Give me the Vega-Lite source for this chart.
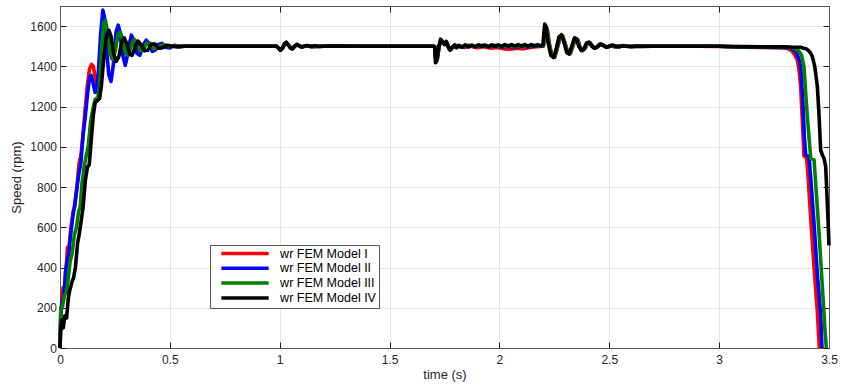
{
  "$schema": "https://vega.github.io/schema/vega-lite/v6.json",
  "width": 769,
  "height": 342,
  "autosize": "none",
  "padding": {"left": 60, "top": 6, "right": 12, "bottom": 39},
  "background": "white",
  "config": {
    "font": "Liberation Sans",
    "view": {"stroke": "#7f7f7f", "strokeWidth": 1},
    "axis": {
      "labelFont": "Liberation Sans",
      "labelFontSize": 12,
      "labelColor": "#262626",
      "labelFlush": false,
      "titleFont": "Liberation Sans",
      "titleFontSize": 13,
      "titleFontWeight": "normal",
      "titleColor": "#262626",
      "domainColor": "#595959",
      "tickColor": "#1a1a1a",
      "tickWidth": 1,
      "tickSize": -6,
      "gridColor": "#e3e3e3",
      "gridWidth": 1
    },
    "axisX": {"labelPadding": 12},
    "axisY": {"labelPadding": 9.5}
  },
  "datasets": {
    "speed": [
      {"m":"I","t":0,"v":0},{"m":"I","t":0.004,"v":150},{"m":"I","t":0.008,"v":230},{"m":"I","t":0.014,"v":300},{"m":"I","t":0.02,"v":285},{"m":"I","t":0.027,"v":380},{"m":"I","t":0.034,"v":500},{"m":"I","t":0.042,"v":510},{"m":"I","t":0.05,"v":600},{"m":"I","t":0.06,"v":680},{"m":"I","t":0.068,"v":705},{"m":"I","t":0.077,"v":800},{"m":"I","t":0.087,"v":920},{"m":"I","t":0.095,"v":955},{"m":"I","t":0.104,"v":1050},{"m":"I","t":0.114,"v":1180},{"m":"I","t":0.124,"v":1300},{"m":"I","t":0.134,"v":1385},{"m":"I","t":0.144,"v":1410},{"m":"I","t":0.152,"v":1400},{"m":"I","t":0.16,"v":1345},{"m":"I","t":0.168,"v":1305},{"m":"I","t":0.178,"v":1380},{"m":"I","t":0.19,"v":1520},{"m":"I","t":0.2,"v":1612},{"m":"I","t":0.21,"v":1600},{"m":"I","t":0.222,"v":1500},{"m":"I","t":0.235,"v":1440},{"m":"I","t":0.248,"v":1490},{"m":"I","t":0.262,"v":1560},{"m":"I","t":0.275,"v":1540},{"m":"I","t":0.29,"v":1470},{"m":"I","t":0.305,"v":1462},{"m":"I","t":0.32,"v":1530},{"m":"I","t":0.335,"v":1528},{"m":"I","t":0.35,"v":1482},{"m":"I","t":0.368,"v":1478},{"m":"I","t":0.385,"v":1518},{"m":"I","t":0.403,"v":1510},{"m":"I","t":0.42,"v":1487},{"m":"I","t":0.442,"v":1508},{"m":"I","t":0.466,"v":1496},{"m":"I","t":0.495,"v":1504},{"m":"I","t":0.53,"v":1498},{"m":"I","t":0.56,"v":1500},
      {"m":"I","t":0.7,"v":1500},{"m":"I","t":0.9,"v":1500},{"m":"I","t":0.985,"v":1500},{"m":"I","t":0.995,"v":1490},{"m":"I","t":1.004,"v":1482},{"m":"I","t":1.014,"v":1492},{"m":"I","t":1.024,"v":1513},{"m":"I","t":1.032,"v":1516},{"m":"I","t":1.042,"v":1503},{"m":"I","t":1.052,"v":1490},{"m":"I","t":1.06,"v":1490},{"m":"I","t":1.07,"v":1501},{"m":"I","t":1.08,"v":1507},{"m":"I","t":1.092,"v":1500},{"m":"I","t":1.105,"v":1497},{"m":"I","t":1.125,"v":1503},{"m":"I","t":1.15,"v":1498},{"m":"I","t":1.2,"v":1500},{"m":"I","t":1.4,"v":1500},{"m":"I","t":1.6,"v":1500},{"m":"I","t":1.7,"v":1500},
      {"m":"I","t":1.707,"v":1496},{"m":"I","t":1.712,"v":1425},{"m":"I","t":1.718,"v":1440},{"m":"I","t":1.726,"v":1500},{"m":"I","t":1.735,"v":1528},{"m":"I","t":1.745,"v":1515},{"m":"I","t":1.755,"v":1518},{"m":"I","t":1.768,"v":1495},{"m":"I","t":1.778,"v":1482},{"m":"I","t":1.79,"v":1497},{"m":"I","t":1.81,"v":1500},{"m":"I","t":1.84,"v":1494},{"m":"I","t":1.87,"v":1500},{"m":"I","t":1.9,"v":1493},{"m":"I","t":1.93,"v":1498},{"m":"I","t":1.96,"v":1490},{"m":"I","t":1.99,"v":1494},{"m":"I","t":2.02,"v":1487},{"m":"I","t":2.05,"v":1485},{"m":"I","t":2.08,"v":1490},{"m":"I","t":2.11,"v":1487},{"m":"I","t":2.14,"v":1494},{"m":"I","t":2.17,"v":1498},{"m":"I","t":2.2,"v":1500},
      {"m":"I","t":2.206,"v":1560},{"m":"I","t":2.211,"v":1595},{"m":"I","t":2.218,"v":1585},{"m":"I","t":2.228,"v":1510},{"m":"I","t":2.24,"v":1450},{"m":"I","t":2.253,"v":1448},{"m":"I","t":2.266,"v":1500},{"m":"I","t":2.278,"v":1550},{"m":"I","t":2.289,"v":1550},{"m":"I","t":2.3,"v":1510},{"m":"I","t":2.312,"v":1465},{"m":"I","t":2.324,"v":1465},{"m":"I","t":2.336,"v":1505},{"m":"I","t":2.348,"v":1538},{"m":"I","t":2.358,"v":1530},{"m":"I","t":2.368,"v":1495},{"m":"I","t":2.379,"v":1478},{"m":"I","t":2.391,"v":1490},{"m":"I","t":2.403,"v":1517},{"m":"I","t":2.414,"v":1516},{"m":"I","t":2.426,"v":1498},{"m":"I","t":2.438,"v":1489},{"m":"I","t":2.451,"v":1500},{"m":"I","t":2.464,"v":1510},{"m":"I","t":2.477,"v":1502},{"m":"I","t":2.492,"v":1495},{"m":"I","t":2.51,"v":1503},{"m":"I","t":2.53,"v":1498},{"m":"I","t":2.56,"v":1501},{"m":"I","t":2.6,"v":1499},{"m":"I","t":2.7,"v":1500},{"m":"I","t":2.9,"v":1500},{"m":"I","t":3.0,"v":1499},{"m":"I","t":3.1,"v":1495},{"m":"I","t":3.2,"v":1494},{"m":"I","t":3.29,"v":1493},
      {"m":"I","t":3.31,"v":1490},{"m":"I","t":3.33,"v":1478},{"m":"I","t":3.345,"v":1455},{"m":"I","t":3.356,"v":1430},{"m":"I","t":3.364,"v":1380},{"m":"I","t":3.371,"v":1300},{"m":"I","t":3.38,"v":1100},{"m":"I","t":3.386,"v":955},{"m":"I","t":3.398,"v":945},{"m":"I","t":3.405,"v":850},{"m":"I","t":3.417,"v":640},{"m":"I","t":3.432,"v":400},{"m":"I","t":3.447,"v":180},{"m":"I","t":3.456,"v":0},

      {"m":"II","t":0,"v":0},{"m":"II","t":0.003,"v":170},{"m":"II","t":0.01,"v":230},{"m":"II","t":0.018,"v":260},{"m":"II","t":0.025,"v":380},{"m":"II","t":0.032,"v":430},{"m":"II","t":0.04,"v":470},{"m":"II","t":0.048,"v":560},{"m":"II","t":0.058,"v":650},{"m":"II","t":0.065,"v":700},{"m":"II","t":0.075,"v":780},{"m":"II","t":0.085,"v":860},{"m":"II","t":0.095,"v":920},{"m":"II","t":0.105,"v":1060},{"m":"II","t":0.115,"v":1150},{"m":"II","t":0.125,"v":1260},{"m":"II","t":0.135,"v":1350},{"m":"II","t":0.142,"v":1355},{"m":"II","t":0.15,"v":1320},{"m":"II","t":0.16,"v":1270},{"m":"II","t":0.168,"v":1280},{"m":"II","t":0.175,"v":1380},{"m":"II","t":0.185,"v":1560},{"m":"II","t":0.195,"v":1680},{"m":"II","t":0.203,"v":1640},{"m":"II","t":0.212,"v":1480},{"m":"II","t":0.222,"v":1360},{"m":"II","t":0.232,"v":1325},{"m":"II","t":0.242,"v":1400},{"m":"II","t":0.255,"v":1570},{"m":"II","t":0.265,"v":1605},{"m":"II","t":0.275,"v":1560},{"m":"II","t":0.287,"v":1450},{"m":"II","t":0.297,"v":1405},{"m":"II","t":0.31,"v":1470},{"m":"II","t":0.325,"v":1555},{"m":"II","t":0.338,"v":1522},{"m":"II","t":0.35,"v":1465},{"m":"II","t":0.363,"v":1455},{"m":"II","t":0.378,"v":1500},{"m":"II","t":0.392,"v":1530},{"m":"II","t":0.405,"v":1515},{"m":"II","t":0.42,"v":1475},{"m":"II","t":0.435,"v":1482},{"m":"II","t":0.45,"v":1510},{"m":"II","t":0.465,"v":1514},{"m":"II","t":0.48,"v":1495},{"m":"II","t":0.5,"v":1491},{"m":"II","t":0.52,"v":1505},{"m":"II","t":0.545,"v":1500},
      {"m":"II","t":0.7,"v":1500},{"m":"II","t":0.9,"v":1500},{"m":"II","t":0.985,"v":1500},{"m":"II","t":0.995,"v":1491},{"m":"II","t":1.003,"v":1481},{"m":"II","t":1.012,"v":1490},{"m":"II","t":1.022,"v":1512},{"m":"II","t":1.03,"v":1518},{"m":"II","t":1.04,"v":1505},{"m":"II","t":1.05,"v":1490},{"m":"II","t":1.058,"v":1488},{"m":"II","t":1.068,"v":1500},{"m":"II","t":1.078,"v":1508},{"m":"II","t":1.09,"v":1501},{"m":"II","t":1.1,"v":1496},{"m":"II","t":1.12,"v":1502},{"m":"II","t":1.15,"v":1499},{"m":"II","t":1.2,"v":1500},{"m":"II","t":1.4,"v":1500},{"m":"II","t":1.6,"v":1500},{"m":"II","t":1.7,"v":1500},
      {"m":"II","t":1.706,"v":1497},{"m":"II","t":1.711,"v":1420},{"m":"II","t":1.717,"v":1435},{"m":"II","t":1.725,"v":1498},{"m":"II","t":1.734,"v":1532},{"m":"II","t":1.743,"v":1518},{"m":"II","t":1.752,"v":1512},{"m":"II","t":1.762,"v":1515},{"m":"II","t":1.772,"v":1485},{"m":"II","t":1.783,"v":1490},{"m":"II","t":1.8,"v":1503},{"m":"II","t":1.83,"v":1495},{"m":"II","t":1.86,"v":1502},{"m":"II","t":1.89,"v":1497},{"m":"II","t":1.92,"v":1503},{"m":"II","t":1.95,"v":1496},{"m":"II","t":1.98,"v":1502},{"m":"II","t":2.01,"v":1495},{"m":"II","t":2.04,"v":1500},{"m":"II","t":2.07,"v":1494},{"m":"II","t":2.1,"v":1500},{"m":"II","t":2.13,"v":1496},{"m":"II","t":2.16,"v":1502},{"m":"II","t":2.19,"v":1500},{"m":"II","t":2.2,"v":1502},
      {"m":"II","t":2.204,"v":1560},{"m":"II","t":2.209,"v":1600},{"m":"II","t":2.215,"v":1590},{"m":"II","t":2.224,"v":1515},{"m":"II","t":2.237,"v":1452},{"m":"II","t":2.25,"v":1446},{"m":"II","t":2.262,"v":1495},{"m":"II","t":2.274,"v":1548},{"m":"II","t":2.285,"v":1553},{"m":"II","t":2.297,"v":1515},{"m":"II","t":2.309,"v":1467},{"m":"II","t":2.32,"v":1463},{"m":"II","t":2.332,"v":1502},{"m":"II","t":2.344,"v":1539},{"m":"II","t":2.354,"v":1533},{"m":"II","t":2.364,"v":1498},{"m":"II","t":2.375,"v":1479},{"m":"II","t":2.387,"v":1488},{"m":"II","t":2.399,"v":1516},{"m":"II","t":2.41,"v":1518},{"m":"II","t":2.422,"v":1500},{"m":"II","t":2.434,"v":1490},{"m":"II","t":2.447,"v":1498},{"m":"II","t":2.46,"v":1510},{"m":"II","t":2.473,"v":1504},{"m":"II","t":2.488,"v":1495},{"m":"II","t":2.505,"v":1503},{"m":"II","t":2.525,"v":1498},{"m":"II","t":2.55,"v":1502},{"m":"II","t":2.6,"v":1499},{"m":"II","t":2.7,"v":1500},{"m":"II","t":2.9,"v":1500},{"m":"II","t":3.0,"v":1500},{"m":"II","t":3.1,"v":1496},{"m":"II","t":3.2,"v":1495},
      {"m":"II","t":3.3,"v":1493},{"m":"II","t":3.33,"v":1488},{"m":"II","t":3.35,"v":1470},{"m":"II","t":3.362,"v":1440},{"m":"II","t":3.371,"v":1400},{"m":"II","t":3.38,"v":1250},{"m":"II","t":3.388,"v":1050},{"m":"II","t":3.394,"v":958},{"m":"II","t":3.409,"v":952},{"m":"II","t":3.42,"v":800},{"m":"II","t":3.432,"v":617},{"m":"II","t":3.447,"v":367},{"m":"II","t":3.462,"v":167},{"m":"II","t":3.468,"v":0},

      {"m":"III","t":0,"v":0},{"m":"III","t":0.004,"v":200},{"m":"III","t":0.012,"v":210},{"m":"III","t":0.02,"v":260},{"m":"III","t":0.03,"v":280},{"m":"III","t":0.038,"v":350},{"m":"III","t":0.046,"v":430},{"m":"III","t":0.055,"v":470},{"m":"III","t":0.065,"v":560},{"m":"III","t":0.075,"v":600},{"m":"III","t":0.085,"v":680},{"m":"III","t":0.092,"v":700},{"m":"III","t":0.1,"v":820},{"m":"III","t":0.11,"v":900},{"m":"III","t":0.12,"v":960},{"m":"III","t":0.128,"v":1000},{"m":"III","t":0.14,"v":1130},{"m":"III","t":0.152,"v":1200},{"m":"III","t":0.16,"v":1235},{"m":"III","t":0.172,"v":1245},{"m":"III","t":0.18,"v":1300},{"m":"III","t":0.19,"v":1500},{"m":"III","t":0.2,"v":1620},{"m":"III","t":0.207,"v":1630},{"m":"III","t":0.217,"v":1560},{"m":"III","t":0.228,"v":1470},{"m":"III","t":0.24,"v":1435},{"m":"III","t":0.252,"v":1480},{"m":"III","t":0.265,"v":1560},{"m":"III","t":0.275,"v":1570},{"m":"III","t":0.287,"v":1520},{"m":"III","t":0.3,"v":1465},{"m":"III","t":0.31,"v":1455},{"m":"III","t":0.322,"v":1495},{"m":"III","t":0.337,"v":1535},{"m":"III","t":0.35,"v":1520},{"m":"III","t":0.365,"v":1478},{"m":"III","t":0.378,"v":1478},{"m":"III","t":0.393,"v":1515},{"m":"III","t":0.41,"v":1515},{"m":"III","t":0.425,"v":1488},{"m":"III","t":0.445,"v":1495},{"m":"III","t":0.47,"v":1508},{"m":"III","t":0.5,"v":1498},{"m":"III","t":0.53,"v":1502},{"m":"III","t":0.56,"v":1500},
      {"m":"III","t":0.7,"v":1500},{"m":"III","t":0.9,"v":1500},{"m":"III","t":0.986,"v":1500},{"m":"III","t":0.996,"v":1491},{"m":"III","t":1.004,"v":1481},{"m":"III","t":1.013,"v":1490},{"m":"III","t":1.023,"v":1512},{"m":"III","t":1.031,"v":1518},{"m":"III","t":1.041,"v":1505},{"m":"III","t":1.051,"v":1490},{"m":"III","t":1.059,"v":1488},{"m":"III","t":1.069,"v":1500},{"m":"III","t":1.079,"v":1508},{"m":"III","t":1.091,"v":1501},{"m":"III","t":1.101,"v":1496},{"m":"III","t":1.12,"v":1502},{"m":"III","t":1.15,"v":1499},{"m":"III","t":1.2,"v":1500},{"m":"III","t":1.4,"v":1500},{"m":"III","t":1.6,"v":1500},{"m":"III","t":1.7,"v":1500},
      {"m":"III","t":1.706,"v":1497},{"m":"III","t":1.711,"v":1422},{"m":"III","t":1.717,"v":1436},{"m":"III","t":1.725,"v":1499},{"m":"III","t":1.734,"v":1530},{"m":"III","t":1.744,"v":1516},{"m":"III","t":1.753,"v":1514},{"m":"III","t":1.763,"v":1512},{"m":"III","t":1.773,"v":1484},{"m":"III","t":1.785,"v":1492},{"m":"III","t":1.8,"v":1505},{"m":"III","t":1.83,"v":1497},{"m":"III","t":1.86,"v":1505},{"m":"III","t":1.89,"v":1498},{"m":"III","t":1.92,"v":1505},{"m":"III","t":1.95,"v":1499},{"m":"III","t":1.98,"v":1505},{"m":"III","t":2.01,"v":1498},{"m":"III","t":2.04,"v":1504},{"m":"III","t":2.07,"v":1498},{"m":"III","t":2.1,"v":1504},{"m":"III","t":2.13,"v":1499},{"m":"III","t":2.16,"v":1505},{"m":"III","t":2.19,"v":1501},{"m":"III","t":2.2,"v":1503},
      {"m":"III","t":2.205,"v":1560},{"m":"III","t":2.21,"v":1598},{"m":"III","t":2.216,"v":1588},{"m":"III","t":2.226,"v":1512},{"m":"III","t":2.239,"v":1451},{"m":"III","t":2.252,"v":1447},{"m":"III","t":2.264,"v":1497},{"m":"III","t":2.276,"v":1549},{"m":"III","t":2.287,"v":1552},{"m":"III","t":2.299,"v":1512},{"m":"III","t":2.311,"v":1466},{"m":"III","t":2.322,"v":1464},{"m":"III","t":2.334,"v":1504},{"m":"III","t":2.346,"v":1539},{"m":"III","t":2.356,"v":1532},{"m":"III","t":2.366,"v":1497},{"m":"III","t":2.377,"v":1479},{"m":"III","t":2.389,"v":1489},{"m":"III","t":2.401,"v":1516},{"m":"III","t":2.412,"v":1517},{"m":"III","t":2.424,"v":1499},{"m":"III","t":2.436,"v":1490},{"m":"III","t":2.449,"v":1499},{"m":"III","t":2.462,"v":1510},{"m":"III","t":2.475,"v":1503},{"m":"III","t":2.49,"v":1495},{"m":"III","t":2.508,"v":1503},{"m":"III","t":2.528,"v":1498},{"m":"III","t":2.555,"v":1502},{"m":"III","t":2.6,"v":1499},{"m":"III","t":2.7,"v":1500},{"m":"III","t":2.9,"v":1500},{"m":"III","t":3.0,"v":1500},{"m":"III","t":3.1,"v":1497},{"m":"III","t":3.2,"v":1496},
      {"m":"III","t":3.3,"v":1495},{"m":"III","t":3.34,"v":1490},{"m":"III","t":3.36,"v":1480},{"m":"III","t":3.375,"v":1455},{"m":"III","t":3.386,"v":1400},{"m":"III","t":3.395,"v":1250},{"m":"III","t":3.405,"v":1100},{"m":"III","t":3.417,"v":942},{"m":"III","t":3.432,"v":935},{"m":"III","t":3.443,"v":760},{"m":"III","t":3.455,"v":567},{"m":"III","t":3.47,"v":300},{"m":"III","t":3.482,"v":83},{"m":"III","t":3.488,"v":0},

      {"m":"IV","t":0,"v":0},{"m":"IV","t":0.003,"v":90},{"m":"IV","t":0.008,"v":140},{"m":"IV","t":0.015,"v":100},{"m":"IV","t":0.022,"v":160},{"m":"IV","t":0.03,"v":150},{"m":"IV","t":0.038,"v":250},{"m":"IV","t":0.045,"v":290},{"m":"IV","t":0.055,"v":330},{"m":"IV","t":0.062,"v":350},{"m":"IV","t":0.07,"v":400},{"m":"IV","t":0.08,"v":520},{"m":"IV","t":0.088,"v":570},{"m":"IV","t":0.095,"v":620},{"m":"IV","t":0.105,"v":700},{"m":"IV","t":0.115,"v":830},{"m":"IV","t":0.125,"v":900},{"m":"IV","t":0.133,"v":910},{"m":"IV","t":0.142,"v":1030},{"m":"IV","t":0.152,"v":1160},{"m":"IV","t":0.16,"v":1220},{"m":"IV","t":0.17,"v":1230},{"m":"IV","t":0.18,"v":1240},{"m":"IV","t":0.188,"v":1300},{"m":"IV","t":0.2,"v":1450},{"m":"IV","t":0.21,"v":1540},{"m":"IV","t":0.222,"v":1580},{"m":"IV","t":0.232,"v":1550},{"m":"IV","t":0.245,"v":1460},{"m":"IV","t":0.256,"v":1425},{"m":"IV","t":0.268,"v":1450},{"m":"IV","t":0.28,"v":1520},{"m":"IV","t":0.292,"v":1542},{"m":"IV","t":0.305,"v":1510},{"m":"IV","t":0.318,"v":1460},{"m":"IV","t":0.328,"v":1455},{"m":"IV","t":0.34,"v":1490},{"m":"IV","t":0.355,"v":1525},{"m":"IV","t":0.37,"v":1505},{"m":"IV","t":0.385,"v":1478},{"m":"IV","t":0.4,"v":1480},{"m":"IV","t":0.415,"v":1510},{"m":"IV","t":0.43,"v":1512},{"m":"IV","t":0.447,"v":1490},{"m":"IV","t":0.465,"v":1492},{"m":"IV","t":0.485,"v":1505},{"m":"IV","t":0.51,"v":1500},{"m":"IV","t":0.54,"v":1497},{"m":"IV","t":0.57,"v":1500},
      {"m":"IV","t":0.7,"v":1500},{"m":"IV","t":0.9,"v":1500},{"m":"IV","t":0.985,"v":1500},{"m":"IV","t":0.995,"v":1490},{"m":"IV","t":1.003,"v":1480},{"m":"IV","t":1.012,"v":1490},{"m":"IV","t":1.022,"v":1512},{"m":"IV","t":1.03,"v":1520},{"m":"IV","t":1.04,"v":1505},{"m":"IV","t":1.05,"v":1490},{"m":"IV","t":1.058,"v":1487},{"m":"IV","t":1.068,"v":1500},{"m":"IV","t":1.078,"v":1509},{"m":"IV","t":1.088,"v":1503},{"m":"IV","t":1.098,"v":1496},{"m":"IV","t":1.11,"v":1500},{"m":"IV","t":1.125,"v":1504},{"m":"IV","t":1.14,"v":1498},{"m":"IV","t":1.16,"v":1502},{"m":"IV","t":1.18,"v":1499},{"m":"IV","t":1.22,"v":1501},{"m":"IV","t":1.4,"v":1500},{"m":"IV","t":1.6,"v":1500},{"m":"IV","t":1.7,"v":1500},
      {"m":"IV","t":1.705,"v":1498},{"m":"IV","t":1.709,"v":1418},{"m":"IV","t":1.715,"v":1430},{"m":"IV","t":1.723,"v":1495},{"m":"IV","t":1.732,"v":1535},{"m":"IV","t":1.741,"v":1524},{"m":"IV","t":1.75,"v":1508},{"m":"IV","t":1.758,"v":1524},{"m":"IV","t":1.766,"v":1500},{"m":"IV","t":1.775,"v":1480},{"m":"IV","t":1.785,"v":1496},{"m":"IV","t":1.795,"v":1506},{"m":"IV","t":1.805,"v":1492},{"m":"IV","t":1.815,"v":1504},{"m":"IV","t":1.83,"v":1496},{"m":"IV","t":1.845,"v":1507},{"m":"IV","t":1.86,"v":1497},{"m":"IV","t":1.875,"v":1506},{"m":"IV","t":1.89,"v":1498},{"m":"IV","t":1.905,"v":1507},{"m":"IV","t":1.92,"v":1499},{"m":"IV","t":1.935,"v":1506},{"m":"IV","t":1.95,"v":1498},{"m":"IV","t":1.965,"v":1507},{"m":"IV","t":1.98,"v":1500},{"m":"IV","t":1.995,"v":1507},{"m":"IV","t":2.01,"v":1499},{"m":"IV","t":2.025,"v":1508},{"m":"IV","t":2.04,"v":1500},{"m":"IV","t":2.055,"v":1508},{"m":"IV","t":2.07,"v":1500},{"m":"IV","t":2.085,"v":1508},{"m":"IV","t":2.1,"v":1501},{"m":"IV","t":2.115,"v":1508},{"m":"IV","t":2.13,"v":1500},{"m":"IV","t":2.145,"v":1508},{"m":"IV","t":2.16,"v":1501},{"m":"IV","t":2.175,"v":1508},{"m":"IV","t":2.19,"v":1502},{"m":"IV","t":2.198,"v":1507},
      {"m":"IV","t":2.202,"v":1560},{"m":"IV","t":2.206,"v":1610},{"m":"IV","t":2.212,"v":1598},{"m":"IV","t":2.221,"v":1520},{"m":"IV","t":2.234,"v":1455},{"m":"IV","t":2.247,"v":1444},{"m":"IV","t":2.259,"v":1490},{"m":"IV","t":2.271,"v":1546},{"m":"IV","t":2.282,"v":1557},{"m":"IV","t":2.294,"v":1520},{"m":"IV","t":2.306,"v":1470},{"m":"IV","t":2.317,"v":1461},{"m":"IV","t":2.329,"v":1500},{"m":"IV","t":2.341,"v":1541},{"m":"IV","t":2.351,"v":1536},{"m":"IV","t":2.361,"v":1500},{"m":"IV","t":2.372,"v":1480},{"m":"IV","t":2.384,"v":1486},{"m":"IV","t":2.396,"v":1515},{"m":"IV","t":2.407,"v":1521},{"m":"IV","t":2.419,"v":1503},{"m":"IV","t":2.431,"v":1490},{"m":"IV","t":2.444,"v":1497},{"m":"IV","t":2.457,"v":1511},{"m":"IV","t":2.47,"v":1506},{"m":"IV","t":2.485,"v":1495},{"m":"IV","t":2.5,"v":1500},{"m":"IV","t":2.515,"v":1506},{"m":"IV","t":2.53,"v":1499},{"m":"IV","t":2.545,"v":1496},{"m":"IV","t":2.56,"v":1503},{"m":"IV","t":2.58,"v":1500},{"m":"IV","t":2.6,"v":1498},{"m":"IV","t":2.62,"v":1501},{"m":"IV","t":2.7,"v":1500},{"m":"IV","t":2.9,"v":1500},{"m":"IV","t":3.0,"v":1500},{"m":"IV","t":3.05,"v":1499},{"m":"IV","t":3.1,"v":1498},{"m":"IV","t":3.2,"v":1497},
      {"m":"IV","t":3.3,"v":1497},{"m":"IV","t":3.34,"v":1495},{"m":"IV","t":3.37,"v":1495},{"m":"IV","t":3.385,"v":1490},{"m":"IV","t":3.395,"v":1488},{"m":"IV","t":3.405,"v":1480},{"m":"IV","t":3.415,"v":1468},{"m":"IV","t":3.424,"v":1450},{"m":"IV","t":3.435,"v":1400},{"m":"IV","t":3.44,"v":1360},{"m":"IV","t":3.447,"v":1300},{"m":"IV","t":3.455,"v":1150},{"m":"IV","t":3.462,"v":983},{"m":"IV","t":3.47,"v":960},{"m":"IV","t":3.478,"v":940},{"m":"IV","t":3.485,"v":900},{"m":"IV","t":3.49,"v":780},{"m":"IV","t":3.495,"v":650},{"m":"IV","t":3.5,"v":510}
    ]
  },
  "data": {"name": "speed"},
  "layer": [
    {
      "mark": {"type": "line", "strokeWidth": 3.6, "strokeJoin": "round", "strokeCap": "butt"},
      "encoding": {
        "x": {
          "field": "t", "type": "quantitative",
          "scale": {"domain": [0, 3.5], "nice": false, "zero": false},
          "axis": {"title": "time (s)", "values": [0, 0.5, 1, 1.5, 2, 2.5, 3, 3.5], "format": "~g", "grid": true, "titlePadding": 3}
        },
        "y": {
          "field": "v", "type": "quantitative",
          "scale": {"domain": [0, 1700], "nice": false},
          "axis": {"title": "Speed (rpm)", "values": [0, 200, 400, 600, 800, 1000, 1200, 1400, 1600], "format": "d", "grid": true, "titlePadding": 6}
        },
        "color": {
          "field": "m", "type": "nominal",
          "scale": {"domain": ["I", "II", "III", "IV"], "range": ["#ff0000", "#0000ff", "#008000", "#000000"]},
          "legend": {
            "orient": "none", "legendX": 150, "legendY": 239,
            "title": null,
            "symbolType": "stroke", "symbolSize": 2240, "symbolStrokeWidth": 3.5, "symbolOffset": 6.5,
            "clipHeight": 11, "rowPadding": 1.8,
            "labelFont": "Liberation Sans", "labelFontSize": 12.5, "labelColor": "#000000",
            "labelExpr": "'wr FEM Model ' + datum.label",
            "labelOffset": 9.6,
            "strokeColor": "#555555", "fillColor": "white", "padding": 3
          }
        }
      }
    },
    {
      "mark": {"type": "point", "opacity": 0},
      "encoding": {
        "x": {
          "field": "t", "type": "quantitative",
          "scale": {"domain": [0, 3.5], "nice": false, "zero": false},
          "axis": {"orient": "top", "title": null, "labels": false, "grid": false, "values": [0, 0.5, 1, 1.5, 2, 2.5, 3, 3.5]}
        },
        "y": {
          "field": "v", "type": "quantitative",
          "scale": {"domain": [0, 1700], "nice": false},
          "axis": {"orient": "right", "title": null, "labels": false, "grid": false, "values": [0, 200, 400, 600, 800, 1000, 1200, 1400, 1600]}
        }
      }
    }
  ],
  "resolve": {"scale": {"x": "independent", "y": "independent"}}
}
